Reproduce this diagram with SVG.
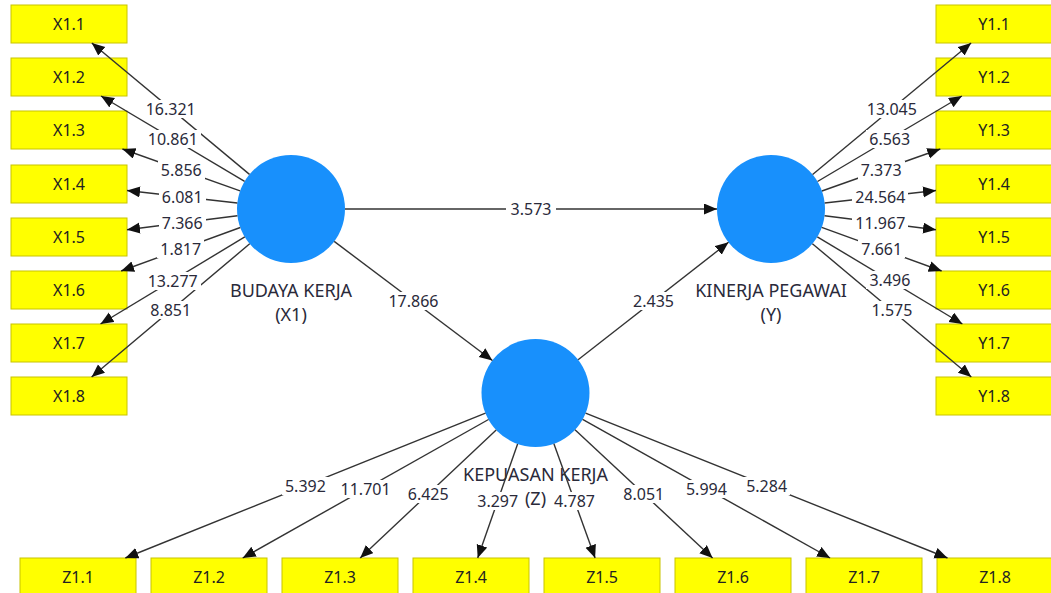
<svg xmlns="http://www.w3.org/2000/svg" width="1051" height="593" viewBox="0 0 1051 593">
  <defs>
    <marker id="arrow" markerUnits="userSpaceOnUse" markerWidth="14" markerHeight="12" refX="13" refY="5.5" orient="auto">
      <path d="M0,0 L13,5.5 L0,11 Z" fill="#111"/>
    </marker>
    <style>
      .ind rect { fill: #ffff00; stroke: #c8c400; stroke-width: 1; }
      .ind text, .lv text { font-family: "Noto Sans", "Open Sans", sans-serif; font-size: 16px; fill: #222; text-anchor: middle; }
      .lv text { font-size: 18px; fill: #2a2a3a; }
      .lv circle { fill: #1890fc; }
      .edge { stroke: #333333; stroke-width: 1.4; fill: none; marker-end: url(#arrow); }
      .lbl rect { fill: #ffffff; }
      .lbl text { font-family: "Noto Sans", "Open Sans", sans-serif; font-size: 16px; fill: #2a2a3a; text-anchor: middle; }
    </style>
  </defs>
  <rect x="0" y="0" width="1051" height="593" fill="#ffffff"/>

  <!-- latent variables -->
  <g id="lv-x1" class="lv">
    <circle cx="291" cy="209" r="54"/>
    <text x="291" y="297">BUDAYA KERJA</text>
    <text x="291" y="321">(X1)</text>
  </g>
  <g id="lv-y" class="lv">
    <circle cx="771" cy="209" r="54"/>
    <text x="771" y="297">KINERJA PEGAWAI</text>
    <text x="771" y="321">(Y)</text>
  </g>
  <g id="lv-z" class="lv">
    <circle cx="535.5" cy="393" r="54"/>
    <text x="535.5" y="481">KEPUASAN KERJA</text>
    <text x="535.5" y="505">(Z)</text>
  </g>

  <!-- indicators of X1 -->
  <g id="ind-x1-1" class="ind"><rect x="11" y="5" width="116" height="38"/><text x="69" y="30">X1.1</text></g>
  <g id="ind-x1-2" class="ind"><rect x="11" y="58" width="116" height="38"/><text x="69" y="83">X1.2</text></g>
  <g id="ind-x1-3" class="ind"><rect x="11" y="111" width="116" height="38"/><text x="69" y="136">X1.3</text></g>
  <g id="ind-x1-4" class="ind"><rect x="11" y="165" width="116" height="38"/><text x="69" y="190">X1.4</text></g>
  <g id="ind-x1-5" class="ind"><rect x="11" y="218" width="116" height="38"/><text x="69" y="243">X1.5</text></g>
  <g id="ind-x1-6" class="ind"><rect x="11" y="271" width="116" height="38"/><text x="69" y="296">X1.6</text></g>
  <g id="ind-x1-7" class="ind"><rect x="11" y="324" width="116" height="38"/><text x="69" y="349">X1.7</text></g>
  <g id="ind-x1-8" class="ind"><rect x="11" y="377" width="116" height="38"/><text x="69" y="402">X1.8</text></g>

  <!-- indicators of Y -->
  <g id="ind-y-1" class="ind"><rect x="936" y="5" width="116" height="38"/><text x="994" y="30">Y1.1</text></g>
  <g id="ind-y-2" class="ind"><rect x="936" y="58" width="116" height="38"/><text x="994" y="83">Y1.2</text></g>
  <g id="ind-y-3" class="ind"><rect x="936" y="111" width="116" height="38"/><text x="994" y="136">Y1.3</text></g>
  <g id="ind-y-4" class="ind"><rect x="936" y="165" width="116" height="38"/><text x="994" y="190">Y1.4</text></g>
  <g id="ind-y-5" class="ind"><rect x="936" y="218" width="116" height="38"/><text x="994" y="243">Y1.5</text></g>
  <g id="ind-y-6" class="ind"><rect x="936" y="271" width="116" height="38"/><text x="994" y="296">Y1.6</text></g>
  <g id="ind-y-7" class="ind"><rect x="936" y="324" width="116" height="38"/><text x="994" y="349">Y1.7</text></g>
  <g id="ind-y-8" class="ind"><rect x="936" y="377" width="116" height="38"/><text x="994" y="402">Y1.8</text></g>

  <!-- indicators of Z -->
  <g id="ind-z-1" class="ind"><rect x="20" y="558" width="116" height="38"/><text x="78" y="583">Z1.1</text></g>
  <g id="ind-z-2" class="ind"><rect x="151" y="558" width="116" height="38"/><text x="209" y="583">Z1.2</text></g>
  <g id="ind-z-3" class="ind"><rect x="282" y="558" width="116" height="38"/><text x="340" y="583">Z1.3</text></g>
  <g id="ind-z-4" class="ind"><rect x="413" y="558" width="116" height="38"/><text x="471" y="583">Z1.4</text></g>
  <g id="ind-z-5" class="ind"><rect x="544" y="558" width="116" height="38"/><text x="602" y="583">Z1.5</text></g>
  <g id="ind-z-6" class="ind"><rect x="675" y="558" width="116" height="38"/><text x="733" y="583">Z1.6</text></g>
  <g id="ind-z-7" class="ind"><rect x="806" y="558" width="116" height="38"/><text x="864" y="583">Z1.7</text></g>
  <g id="ind-z-8" class="ind"><rect x="937" y="558" width="116" height="38"/><text x="995" y="583">Z1.8</text></g>

  <!-- connectors: lines, then their value labels -->
  <g id="connectors">
    <g id="connector-lines">
      <line class="edge" x1="345" y1="209" x2="717" y2="209"/>
      <line class="edge" x1="334.2" y1="241.4" x2="492.4" y2="360.5"/>
      <line class="edge" x1="578.1" y1="359.8" x2="728.5" y2="242.3"/>

      <line class="edge" x1="249.5" y1="174.4" x2="91.8" y2="43"/>
      <line class="edge" x1="244.6" y1="181.4" x2="101" y2="96"/>
      <line class="edge" x1="240.1" y1="190.9" x2="122.4" y2="149"/>
      <line class="edge" x1="237.3" y1="203" x2="127" y2="190.5"/>
      <line class="edge" x1="237.4" y1="215.8" x2="127" y2="229.7"/>
      <line class="edge" x1="240.3" y1="227.5" x2="121.1" y2="271"/>
      <line class="edge" x1="244.8" y1="236.9" x2="100.5" y2="324"/>
      <line class="edge" x1="249.7" y1="243.8" x2="91.6" y2="377"/>

      <line class="edge" x1="812.6" y1="174.5" x2="971.1" y2="43"/>
      <line class="edge" x1="817.5" y1="181.5" x2="961.9" y2="96"/>
      <line class="edge" x1="821.9" y1="191" x2="940.3" y2="149"/>
      <line class="edge" x1="824.7" y1="203" x2="936" y2="190.5"/>
      <line class="edge" x1="824.6" y1="215.7" x2="936" y2="229.7"/>
      <line class="edge" x1="821.7" y1="227.4" x2="941.7" y2="271"/>
      <line class="edge" x1="817.3" y1="236.8" x2="962.4" y2="324"/>
      <line class="edge" x1="812.4" y1="243.7" x2="971.3" y2="377"/>

      <line class="edge" x1="485.5" y1="413.1" x2="125.3" y2="558"/>
      <line class="edge" x1="488.5" y1="419.5" x2="242.7" y2="558"/>
      <line class="edge" x1="496.2" y1="430" x2="360.2" y2="558"/>
      <line class="edge" x1="517.6" y1="444" x2="477.7" y2="558"/>
      <line class="edge" x1="553.9" y1="443.8" x2="595.1" y2="558"/>
      <line class="edge" x1="575" y1="429.8" x2="712.6" y2="558"/>
      <line class="edge" x1="582.6" y1="419.4" x2="830.1" y2="558"/>
      <line class="edge" x1="585.6" y1="413.1" x2="947.5" y2="558"/>
    </g>

    <g id="connector-labels" class="lbl">
      <rect x="506" y="200" width="50" height="18"/><text x="531" y="215">3.573</text>
      <rect x="386" y="292" width="56" height="18"/><text x="413.5" y="307">17.866</text>
      <rect x="630" y="292" width="47" height="18"/><text x="653.5" y="307">2.435</text>

      <rect x="143" y="100" width="56" height="18"/><text x="170.7" y="114.7">16.321</text>
      <rect x="145" y="130" width="56" height="18"/><text x="172.8" y="144.7">10.861</text>
      <rect x="158" y="161" width="47" height="18"/><text x="181.3" y="176">5.856</text>
      <rect x="159" y="188" width="47" height="18"/><text x="182.2" y="202.8">6.081</text>
      <rect x="159" y="214" width="47" height="18"/><text x="182.2" y="228.8">7.366</text>
      <rect x="157" y="240" width="47" height="18"/><text x="180.7" y="255.3">1.817</text>
      <rect x="145" y="272" width="56" height="18"/><text x="172.7" y="286.5">13.277</text>
      <rect x="147" y="301" width="47" height="18"/><text x="170.7" y="316.4">8.851</text>

      <rect x="864" y="100" width="56" height="18"/><text x="891.9" y="114.8">13.045</text>
      <rect x="866" y="130" width="47" height="18"/><text x="889.7" y="144.8">6.563</text>
      <rect x="858" y="161" width="47" height="18"/><text x="881.1" y="176">7.373</text>
      <rect x="852" y="188" width="56" height="18"/><text x="880.4" y="202.8">24.564</text>
      <rect x="852" y="214" width="56" height="18"/><text x="880.3" y="228.7">11.967</text>
      <rect x="858" y="240" width="47" height="18"/><text x="881.7" y="255.2">7.661</text>
      <rect x="866" y="271" width="47" height="18"/><text x="889.9" y="286.4">3.496</text>
      <rect x="868" y="301" width="47" height="18"/><text x="891.9" y="316.4">1.575</text>

      <rect x="282" y="477" width="47" height="18"/><text x="305.4" y="491.6">5.392</text>
      <rect x="338" y="480" width="56" height="18"/><text x="365.6" y="494.8">11.701</text>
      <rect x="405" y="485" width="47" height="18"/><text x="428.2" y="500">6.425</text>
      <rect x="475" y="492" width="46" height="18"/><text x="497.7" y="507">3.297</text>
      <rect x="551" y="492" width="47" height="18"/><text x="574.5" y="506.9">4.787</text>
      <rect x="620" y="485" width="47" height="18"/><text x="643.8" y="499.9">8.051</text>
      <rect x="683" y="480" width="47" height="18"/><text x="706.4" y="494.7">5.994</text>
      <rect x="743" y="477" width="47" height="18"/><text x="766.6" y="491.6">5.284</text>
    </g>
  </g>
</svg>
